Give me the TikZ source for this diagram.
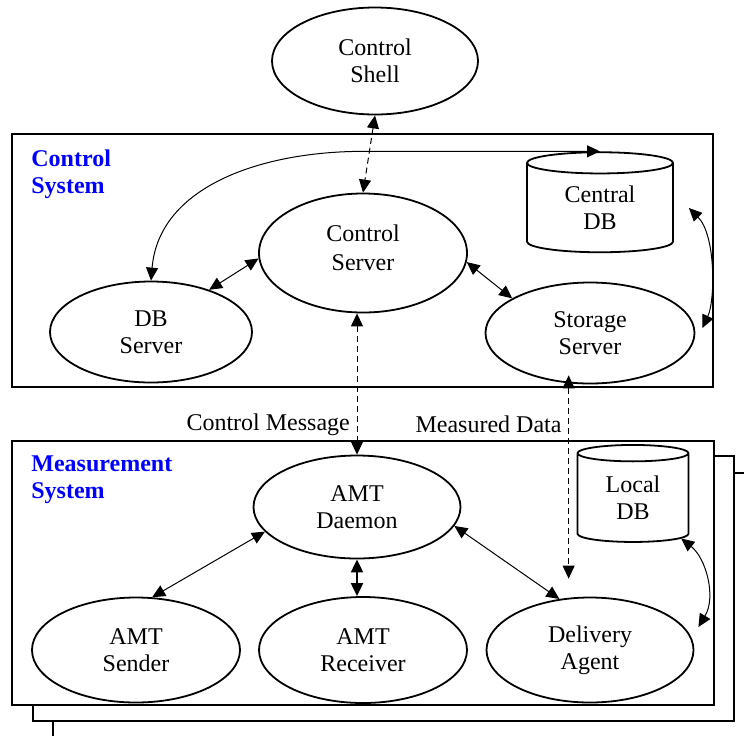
\documentclass[tikz,border=0pt]{standalone}
\usepackage{fontspec}
\setmainfont{Liberation Serif}
\usetikzlibrary{calc,arrows.meta,shapes.geometric}
\tikzset{
  >={Triangle[length=6.5pt,width=6pt]},
  link/.style={<->, line width=0.5pt},
  msg/.style={link, dash pattern=on 3pt off 2pt},
  proc/.style={draw, ellipse, line width=0.9pt, align=center, inner sep=0pt},
  dbcyl/.style={draw, cylinder, shape border rotate=90, aspect=0.3, line width=0.9pt, align=center, inner sep=0pt},
  sysbox/.style={draw, fill=white, line width=0.9pt},
  systitle/.style={text=blue, font=\fontsize{12}{13.8}\selectfont\bfseries, align=left, inner sep=0pt}
}
\begin{document}
\begin{tikzpicture}[x=0.5pt, y=-0.5pt, font=\fontsize{12}{13.5}\selectfont]
  \useasboundingbox (0,0) rectangle (744,735);
  \clip (0,0) rectangle (744,735);
  % system frames
  \draw[sysbox] (12,134) rectangle (713,387);
  \draw[sysbox] (53,473) rectangle (754,737);
  \draw[sysbox] (33,456) rectangle (734,721);
  \draw[sysbox] (12,441) rectangle (714,705);
  \node[systitle, anchor=north west] (ctitle) at (31,149) {Control\\System};
  \node[systitle, anchor=north west] (mtitle) at (31,455) {Measurement\\System};

  % control side
  \node[proc, minimum width=103pt, minimum height=53.5pt] (shell) at (375,61) {Control\\Shell};
  \node[proc, minimum width=104pt, minimum height=59.5pt] (cserver) at (363,253) {Control\\[1pt]Server\rule[-5pt]{0pt}{5pt}};
  \node[proc, minimum width=101pt, minimum height=50.5pt] (dbserver) at (151,332) {DB\\Server};
  \node[proc, minimum width=104.5pt, minimum height=50.5pt] (storage) at (590,333) {Storage\\Server};
  \node[dbcyl, minimum width=73pt, minimum height=50pt] (cdb) at (600,208) {Central\\DB};

  % measurement side
  \node[proc, minimum width=103.5pt, minimum height=51.5pt] (daemon) at (357,507) {AMT\\Daemon};
  \node[proc, minimum width=104pt, minimum height=52.5pt] (sender) at (136,650) {AMT\\Sender};
  \node[proc, minimum width=104pt, minimum height=53pt] (receiver) at (363,650) {AMT\\Receiver};
  \node[proc, minimum width=103.5pt, minimum height=52.5pt] (delivery) at (590,650) {Delivery\\Agent};
  \node[dbcyl, minimum width=55.5pt, minimum height=48.5pt] (ldb) at (633,498) {Local\\DB};

  % links
  \draw[msg] (shell.south) -- (cserver.north);
  \draw[link] (cserver.183) -- (dbserver.36);
  \draw[link] (dbserver.north) .. controls +(8,-95) and +(-100,0) .. (cdb.north -| cserver.north) -- (cdb.north);
  \draw[link] (cserver.-5) -- (storage.156);
  \draw[link] ($(cdb.east)+(15,0)$) .. controls +(27,27) and +(13,-28) .. ($(storage.east)+(7,-5)$);
  \draw[msg] (daemon.north |- cserver.south) -- node[pos=0.79, left] (cmsg) {Control Message} (daemon.north);
  \draw[msg, shorten <=-4pt, shorten >=9pt] (storage.247) -- node[pos=0.19, left] (mdata) {Measured Data} (storage.247 |- delivery.north);
  \draw[link] (daemon.195) -- (sender.73);
  \draw[link, line width=1pt] (daemon.south) -- (daemon.south |- receiver.north);
  \draw[link] (daemon.-11) -- (delivery.121);
  \draw[link] (ldb.-40) .. controls +(25,20) and +(18,-30) .. ($(delivery.east)+(4,-23)$);
\end{tikzpicture}
\end{document}
